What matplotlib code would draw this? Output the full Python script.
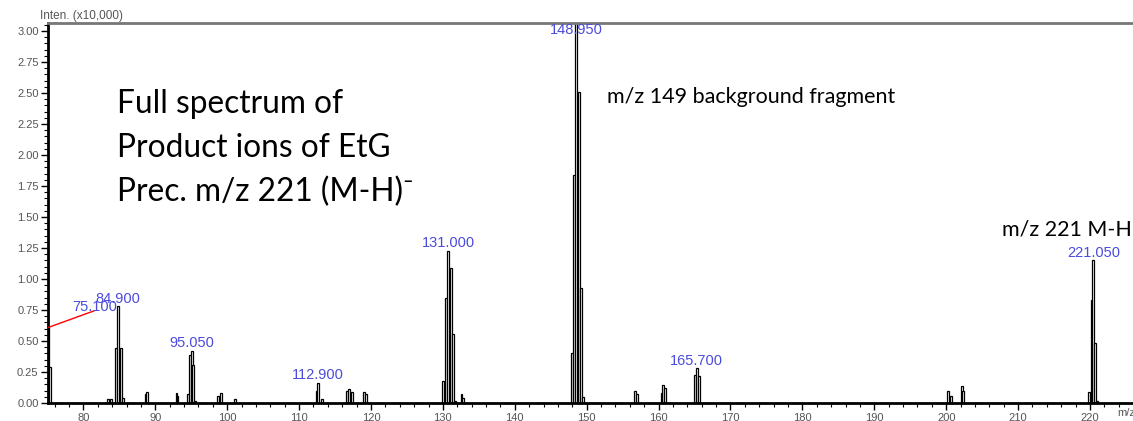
import numpy as np
import matplotlib
matplotlib.use("Agg")
from matplotlib import pyplot as plt
from matplotlib.ticker import MultipleLocator

# peak sticks (m/z, intensity in x10,000)
peak_mz = [75.15, 75.37, 83.38, 83.84, 84.53, 84.85, 85.19, 85.55,
           88.70, 88.85, 92.95, 93.10, 94.60, 94.85, 95.06, 95.28, 95.50,
           98.77, 99.10, 101.08, 112.45, 112.67, 113.14,
           116.62, 116.98, 117.36, 119.03, 119.30,
           130.06, 130.43, 130.75, 131.09, 131.36, 131.68, 132.60, 132.84,
           147.91, 148.23, 148.51, 148.93, 149.16, 149.48,
           156.70, 157.04, 160.43, 160.65, 160.89, 165.06, 165.30, 165.62,
           200.29, 200.63, 202.15, 202.38,
           219.90, 220.24, 220.46, 220.70, 220.95]
peak_int = [0.61, 0.29, 0.03, 0.03, 0.44, 0.78, 0.44, 0.04,
            0.07, 0.09, 0.08, 0.06, 0.07, 0.39, 0.42, 0.31, 0.02,
            0.06, 0.08, 0.03, 0.10, 0.165, 0.03,
            0.10, 0.11, 0.09, 0.09, 0.07,
            0.18, 0.85, 1.23, 1.09, 0.56, 0.02, 0.07, 0.04,
            0.40, 1.84, 3.10, 2.51, 0.93, 0.05,
            0.10, 0.07, 0.08, 0.145, 0.12, 0.225, 0.28, 0.22,
            0.10, 0.06, 0.14, 0.10,
            0.09, 0.83, 1.15, 0.48, 0.02]

# labelled peaks
label_values = [75.100, 84.900, 95.050, 112.900, 131.000, 148.950, 165.700, 221.050]

x_ticks = np.arange(80, 221, 10)
y_ticks = np.arange(0, 3.01, 0.25)

W, H = 1133, 421
fig = plt.figure(figsize=(W / 100, H / 100), dpi=100)
ax = fig.add_axes([48.3 / W, 18 / H, 1 - 48.3 / W, 380 / H])

ax.bar(peak_mz, peak_int, width=0.25, color='white', edgecolor='black',
       linewidth=0.9, zorder=2)

ax.set_xlim(75.12, 225.98)
ax.set_ylim(0, 3.065)

grey = '#555555'
ax.set_xticks(x_ticks)
ax.set_yticks(y_ticks)
ax.set_yticklabels([f'{v:.2f}' for v in y_ticks])
ax.xaxis.set_minor_locator(MultipleLocator(2))
ax.yaxis.set_minor_locator(MultipleLocator(0.05))
ax.tick_params(axis='both', which='major', length=5, width=1, color='black',
               labelsize=8, labelcolor=grey, pad=2)
ax.tick_params(axis='both', which='minor', length=3, width=0.8, color='black')
for lab in ax.get_xticklabels() + ax.get_yticklabels():
    lab.set_fontfamily('Liberation Sans')

for side in ['left', 'bottom']:
    ax.spines[side].set_linewidth(2)
ax.spines['right'].set_visible(False)
ax.spines['top'].set_color('#777777')
ax.spines['top'].set_linewidth(2)

# peak labels
blue = '#4b4bdc'
mz_arr = np.array(peak_mz)
int_arr = np.array(peak_int)
for val in label_values:
    near = np.abs(mz_arr - val) < 1.0
    idx = np.where(near)[0][np.argmax(int_arr[near])]
    x_top, y_top = mz_arr[idx], min(int_arr[idx], 2.95)
    txt = f'{val:.3f}'
    if val < 80:
        ax.annotate(txt, xy=(x_top, y_top), xytext=(33, 15), textcoords='offset points',
                    ha='center', va='center', color=blue, fontsize=10.5,
                    family='Liberation Sans',
                    arrowprops=dict(arrowstyle='-', color='red', lw=1, patchA=None,
                                    shrinkA=0, shrinkB=0, relpos=(0.5, 0.2)))
    else:
        ax.annotate(txt, xy=(x_top, y_top), xytext=(0, 0.5), textcoords='offset points',
                    ha='center', va='bottom', color=blue, fontsize=10.5,
                    family='Liberation Sans', annotation_clip=False)

fig.text(40 / W, 1 - 16 / H, 'Inten. (x10,000)', fontsize=8.5, color=grey,
         family='Liberation Sans', va='center')
fig.text(1117 / W, 1 - 413 / H, 'm/z', fontsize=8, color=grey,
         family='Liberation Sans', va='center')

big_lines = ['Full spectrum of', 'Product ions of EtG', 'Prec. m/z 221 (M-H)\u207b']
for i, line in enumerate(big_lines):
    fig.text(117 / W, 1 - (113 + 44 * i) / H, line, fontsize=22.8,
             family=['Lato', 'DejaVu Sans'], va='baseline')
fig.text(607 / W, 1 - 103 / H, 'm/z 149 background fragment', fontsize=15.5,
         family='Lato', va='baseline')
fig.text(1002 / W, 1 - 235 / H, 'm/z 221 M-H', fontsize=15.5,
         family='Lato', va='baseline')

fig.savefig('out.png', dpi=100)
